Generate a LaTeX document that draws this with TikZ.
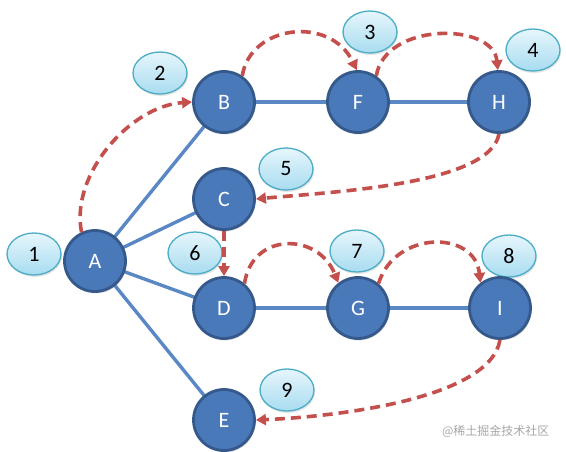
\documentclass[tikz,border=0pt]{standalone}
\usepackage{fontspec}
\setmainfont{Carlito}
\newfontfamily\cjkfont{Noto Sans CJK SC}
\usetikzlibrary{arrows.meta,shapes.geometric,shadows}
\definecolor{nodefill}{HTML}{4A79B9}
\definecolor{nodeline}{HTML}{34598A}
\definecolor{edgeblue}{HTML}{5A88C4}
\definecolor{dashred}{HTML}{C4504D}
\definecolor{lblline}{HTML}{4BACC6}
\definecolor{lbltop}{HTML}{E6F6FC}
\definecolor{lblbot}{HTML}{A8DCF0}
\tikzset{
  vtx/.style={circle,draw=nodeline,line width=2.8pt,fill=nodefill,minimum size=61pt,inner sep=0pt,
    text=white,font=\fontsize{22}{22}\selectfont,
    drop shadow={opacity=0.25,shadow xshift=1pt,shadow yshift=-2pt}},
  lbl/.style={ellipse,draw=lblline,line width=1.3pt,top color=lbltop,bottom color=lblbot,
    minimum width=54pt,minimum height=42pt,inner sep=0pt,font=\fontsize{22}{22}\selectfont,
    drop shadow={opacity=0.2,shadow xshift=1pt,shadow yshift=-2pt}},
  tree/.style={draw=edgeblue,line width=3.4pt},
  visit/.style={draw=dashred,line width=3.6pt,dash pattern=on 10pt off 6pt,
    -{Triangle[length=10pt,width=11pt,fill=dashred]}}
}
\begin{document}
\begin{tikzpicture}[x=1pt,y=-1pt]
\useasboundingbox (0,0) rectangle (566,451);
% label ellipses
\node[lbl] (l1) at (34,254) {1};
\node[lbl] (l2) at (160,73) {2};
\node[lbl] (l3) at (370,32) {3};
\node[lbl] (l4) at (533,50) {4};
\node[lbl] (l5) at (286,169) {5};
\node[lbl] (l6) at (195,253) {6};
\node[lbl] (l7) at (357,251) {7};
\node[lbl] (l8) at (509,256) {8};
\node[lbl] (l9) at (287,390) {9};
% vertex positions
\coordinate (pA) at (95,261);
\coordinate (pB) at (224,102);
\coordinate (pF) at (358,102);
\coordinate (pH) at (499,102);
\coordinate (pC) at (224,199);
\coordinate (pD) at (224,308);
\coordinate (pG) at (358,308);
\coordinate (pI) at (500,308);
\coordinate (pE) at (224,420);
% tree edges
\path[tree] (pA) -- (pB);
\path[tree] (pA) -- (pC);
\path[tree] (pA) -- (pD);
\path[tree] (pA) -- (pE);
\path[tree] (pB) -- (pF);
\path[tree] (pF) -- (pH);
\path[tree] (pD) -- (pG);
\path[tree] (pG) -- (pI);
% vertices
\node[vtx] (A) at (pA) {A};
\node[vtx] (B) at (pB) {B};
\node[vtx] (F) at (pF) {F};
\node[vtx] (H) at (pH) {H};
\node[vtx] (C) at (pC) {C};
\node[vtx] (D) at (pD) {D};
\node[vtx] (G) at (pG) {G};
\node[vtx] (I) at (pI) {I};
\node[vtx] (E) at (pE) {E};
% traversal
\path[visit] (A.115) .. controls (70,175) and (130,106) .. (B.180);
\path[visit] (B.55) .. controls (250,25) and (330,15) .. (F.92);
\path[visit] (F.55) .. controls (385,22) and (493,22) .. (H.92);
\path[visit] (H.270) .. controls (490,185) and (330,192) .. (C.0);
\path[visit] (C.270) -- (D.90);
\path[visit] (D.50) .. controls (252,232) and (318,232) .. (G.128);
\path[visit] (G.50) .. controls (395,230) and (475,230) .. (I.128);
\path[visit] (I.270) .. controls (490,400) and (330,417) .. (E.0);
% watermark
\node[anchor=east,text=black!35,font=\cjkfont\fontsize{12}{12}\selectfont] (wm) at (553,431) {@稀土掘金技术社区};
\end{tikzpicture}
\end{document}
